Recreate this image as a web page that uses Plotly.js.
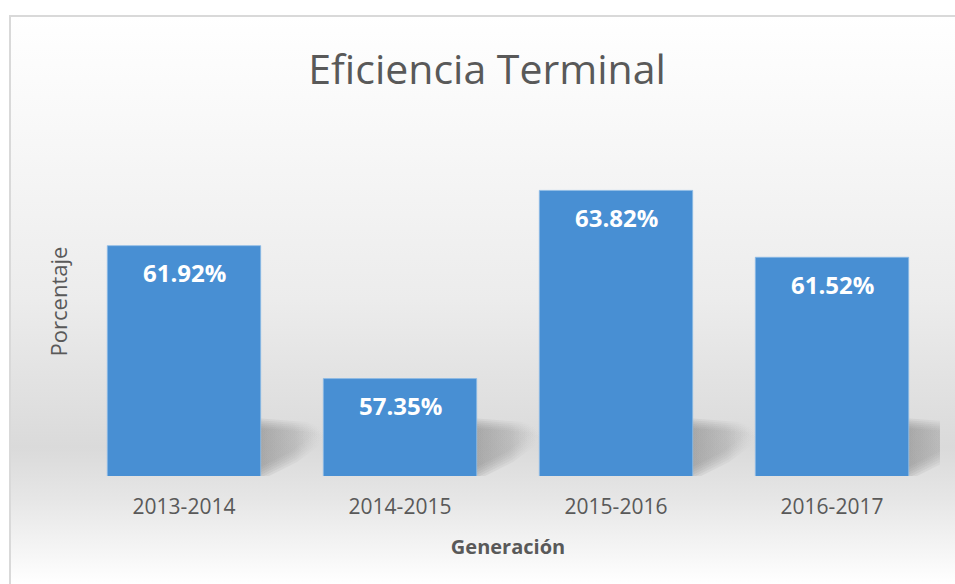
<!DOCTYPE html>
<html>
<head>
<meta charset="utf-8">
<script src="https://cdn.plot.ly/plotly-3.0.1.min.js"></script>
<style>html,body{margin:0;padding:0;background:#fff;}</style>
</head>
<body>
<div id="chart" style="width:955px;height:584px;"></div>
<script>
// ---- data ----
const generaciones = ["2013-2014", "2014-2015", "2015-2016", "2016-2017"];
const eficiencia = [61.92, 57.35, 63.82, 61.52];
const etiquetas = eficiencia.map(v => v.toFixed(2) + "%");

const chartTitle = "Eficiencia Terminal";
const xTitle = "Generación";
const yTitle = "Porcentaje";

// ---- styling helpers ----
const svgUri = s => "data:image/svg+xml;charset=utf-8," + encodeURIComponent(s);

const bgSvg = '<svg xmlns="http://www.w3.org/2000/svg" width="946" height="569" viewBox="0 0 946 569" preserveAspectRatio="none">' +
  '<defs><linearGradient id="g" x1="0" y1="0" x2="0" y2="1">' +
  '<stop offset="0" stop-color="#ffffff"/>' +
  '<stop offset="0.2" stop-color="#f8f8f8"/>' +
  '<stop offset="0.5" stop-color="#ececec"/>' +
  '<stop offset="0.76" stop-color="#dadada"/>' +
  '<stop offset="0.85" stop-color="#e6e6e6"/>' +
  '<stop offset="1" stop-color="#ffffff"/>' +
  '</linearGradient></defs>' +
  '<rect x="0" y="0" width="946" height="569" fill="url(#g)"/>' +
  '<line x1="0" y1="1" x2="946" y2="1" stroke="#d9d9d9" stroke-width="2"/>' +
  '<line x1="1" y1="0" x2="1" y2="569" stroke="#d9d9d9" stroke-width="2"/>' +
  '</svg>';

// soft perspective shadow sprite (80 x 66 px), layered copies fake a blur
let shadowLayers = "";
[-6, -4, -2, 0, 2, 4].forEach(d => {
  shadowLayers += '<polygon transform="translate(' + (d * 0.6) + ',' + d + ')" ' +
    'points="4,14 56,18 72,24 40,48 4,66" fill="url(#s)" fill-opacity="0.16"/>';
});
const shadowSvg = '<svg xmlns="http://www.w3.org/2000/svg" width="80" height="66" viewBox="0 0 80 66">' +
  '<defs><linearGradient id="s" x1="0" y1="0" x2="1" y2="0">' +
  '<stop offset="0" stop-color="#8a8a8a" stop-opacity="1"/>' +
  '<stop offset="0.55" stop-color="#a0a0a0" stop-opacity="0.7"/>' +
  '<stop offset="1" stop-color="#c4c4c4" stop-opacity="0"/>' +
  '</linearGradient></defs>' + shadowLayers + '</svg>';

const L = 76, R = 15, T = 127, B = 108, W = 955, H = 584;
const pw = W - L - R, ph = H - T - B;
const yMin = 54, yMax = 66;
const bargap = 0.29;
const pxPerCat = pw / generaciones.length;
const pxPerUnit = ph / (yMax - yMin);

const trace = {
  type: "bar",
  x: generaciones,
  y: eficiencia,
  marker: { color: "#488fd3", line: { color: "#8dbbe6", width: 0.8 } },
  hoverinfo: "x+y"
};

const shadowImages = generaciones.map((g, i) => ({
  source: svgUri(shadowSvg), xref: "x", yref: "y",
  x: i + (1 - bargap) / 2 - 6 / pxPerCat, y: yMin,
  sizex: 80 / pxPerCat, sizey: 66 / pxPerUnit,
  xanchor: "left", yanchor: "bottom", sizing: "stretch", layer: "below"
}));

const layout = {
  width: W, height: H,
  margin: { l: L, r: R, t: T, b: B },
  paper_bgcolor: "#ffffff",
  plot_bgcolor: "rgba(0,0,0,0)",
  showlegend: false,
  bargap: bargap,
  font: { family: "Open Sans, Noto Sans, sans-serif", color: "#595959" },
  title: {
    text: chartTitle,
    x: 0.51, xref: "container", xanchor: "center",
    y: 1 - 70 / H, yref: "container", yanchor: "middle",
    font: { size: 41, color: "#595959", family: "Open Sans, sans-serif" }
  },
  xaxis: {
    type: "category",
    showgrid: false, zeroline: false, showline: false,
    ticks: "", ticklabelstandoff: 16,
    tickfont: { size: 21, color: "#595959" },
    title: { text: xTitle, standoff: 20, font: { size: 20, color: "#595959", weight: "bold" } }
  },
  yaxis: {
    range: [yMin, yMax],
    showgrid: false, zeroline: false, showline: false,
    showticklabels: false, ticks: "",
    title: { text: yTitle, standoff: 1, font: { size: 22, color: "#595959" } }
  },
  images: [{
    source: svgUri(bgSvg), xref: "paper", yref: "paper",
    x: (9 - L) / pw, y: (H - B - 15) / ph,
    sizex: (W - 9) / pw, sizey: (H - 15) / ph,
    xanchor: "left", yanchor: "top", sizing: "stretch", layer: "below"
  }].concat(shadowImages),
  annotations: generaciones.map((g, i) => ({
    x: g, y: eficiencia[i], xref: "x", yref: "y",
    text: "<b>" + etiquetas[i] + "</b>",
    showarrow: false, yanchor: "middle", yshift: -27,
    font: { size: 24, color: "#ffffff", family: "Open Sans, sans-serif" }
  }))
};

Plotly.newPlot("chart", [trace], layout, { staticPlot: true });
</script>
</body>
</html>
